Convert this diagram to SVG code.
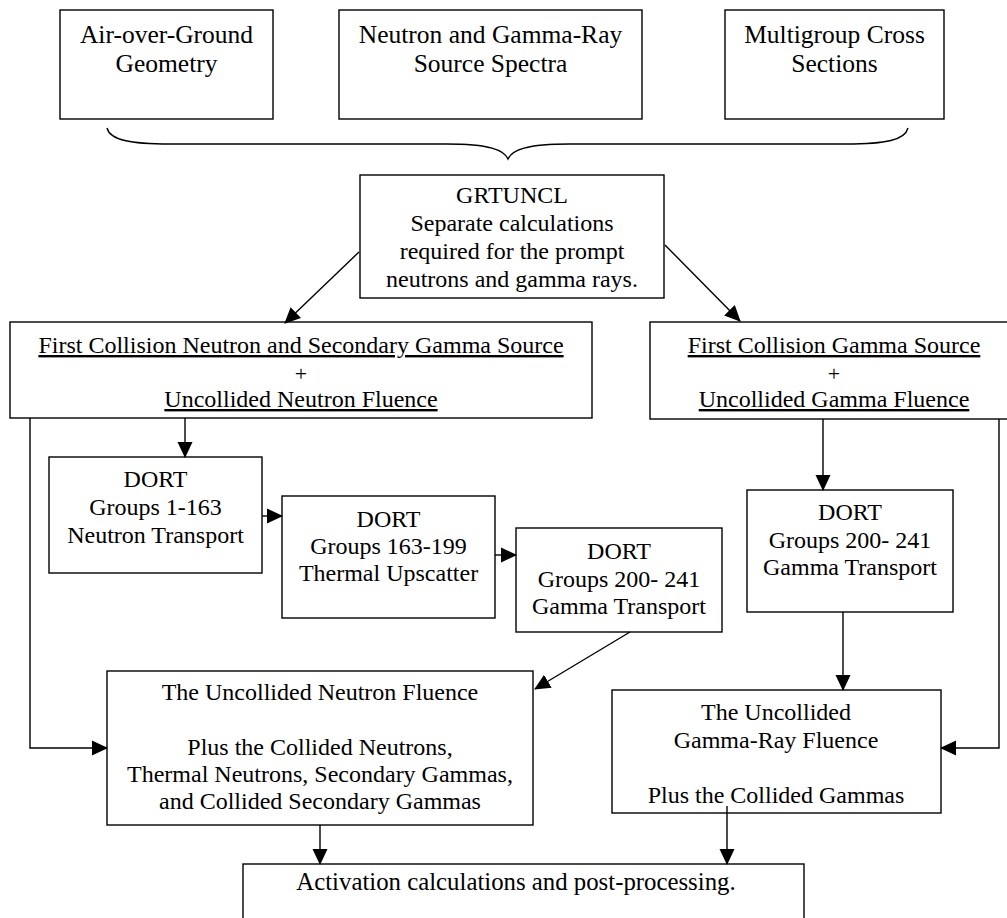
<svg xmlns="http://www.w3.org/2000/svg" width="1007" height="918" viewBox="0 0 1007 918">
<defs>
<style>
.box{fill:#fff;stroke:#000;stroke-width:1.4}
.t{font-family:"Liberation Serif","Times New Roman",serif;font-size:24px;fill:#000;text-anchor:middle}
.tt{font-size:25.5px}
.u{text-decoration:underline}
.plus{font-size:22px}
.big{font-size:24.8px}
.c{fill:none;stroke:#000;stroke-width:1.4}
</style>
<marker id="ah" markerUnits="userSpaceOnUse" markerWidth="16" markerHeight="16" viewBox="0 0 16 16" refX="15" refY="8" orient="auto">
<path d="M0,0.5 L16,8 L0,15.5 z" fill="#000"/>
</marker>
</defs>
<rect width="1007" height="918" fill="#fff"/>

<g id="n-geometry">
<rect class="box" x="60" y="10" width="213" height="109"/>
<text class="t tt" x="166.5" y="43">Air-over-Ground</text>
<text class="t tt" x="166.5" y="72">Geometry</text>
</g>
<g id="n-spectra">
<rect class="box" x="339" y="10" width="303" height="109"/>
<text class="t tt" x="490.5" y="43">Neutron and Gamma-Ray</text>
<text class="t tt" x="490.5" y="72">Source Spectra</text>
</g>
<g id="n-xsec">
<rect class="box" x="725" y="10" width="219" height="109"/>
<text class="t tt" x="834.5" y="43">Multigroup Cross</text>
<text class="t tt" x="834.5" y="72">Sections</text>
</g>

<g id="brace">
<path class="c" d="M107,128 C110,140 130,144 170,144 L446,144 C490,144 504,150 508,159 C512,150 526,144 570,144 L846,144 C886,144 905,140 908,128"/>
</g>

<g id="n-grtuncl">
<rect class="box" x="360" y="175" width="304" height="123"/>
<text class="t" x="512" y="203">GRTUNCL</text>
<text class="t" x="512" y="231">Separate calculations</text>
<text class="t" x="512" y="259">required for the prompt</text>
<text class="t" x="512" y="287">neutrons and gamma rays.</text>
</g>

<g id="n-fcn">
<rect class="box" x="10" y="322" width="582" height="96"/>
<text class="t u" x="301" y="353">First Collision Neutron and Secondary Gamma Source</text>
<text class="t plus" x="301" y="381">+</text>
<text class="t u" x="301" y="407">Uncollided Neutron Fluence</text>
</g>

<g id="n-fcg">
<rect class="box" x="650" y="322" width="370" height="97"/>
<text class="t u" x="834" y="353">First Collision Gamma Source</text>
<text class="t plus" x="834" y="381">+</text>
<text class="t u" x="834" y="407">Uncollided Gamma Fluence</text>
</g>

<g id="n-dort1">
<rect class="box" x="49" y="457" width="213" height="116"/>
<text class="t" x="155.5" y="487">DORT</text>
<text class="t" x="155.5" y="515">Groups 1-163</text>
<text class="t" x="155.5" y="543">Neutron Transport</text>
</g>

<g id="n-dort2">
<rect class="box" x="282" y="496" width="213" height="122"/>
<text class="t" x="388.5" y="527">DORT</text>
<text class="t" x="388.5" y="554">Groups 163-199</text>
<text class="t" x="388.5" y="581">Thermal Upscatter</text>
</g>

<g id="n-dort3">
<rect class="box" x="516" y="528" width="206" height="104"/>
<text class="t" x="619" y="559">DORT</text>
<text class="t" x="619" y="587">Groups 200- 241</text>
<text class="t" x="619" y="614">Gamma Transport</text>
</g>

<g id="n-dortg">
<rect class="box" x="747" y="490" width="206" height="122"/>
<text class="t" x="850" y="520">DORT</text>
<text class="t" x="850" y="548">Groups 200- 241</text>
<text class="t" x="850" y="575">Gamma Transport</text>
</g>

<g id="n-nfluence">
<rect class="box" x="107" y="671" width="426" height="154"/>
<text class="t" x="320" y="700">The Uncollided Neutron Fluence</text>
<text class="t" x="320" y="755">Plus the Collided Neutrons,</text>
<text class="t" x="320" y="782">Thermal Neutrons, Secondary Gammas,</text>
<text class="t" x="320" y="809">and Collided Secondary Gammas</text>
</g>

<g id="n-gfluence">
<rect class="box" x="612" y="690" width="329" height="123"/>
<text class="t" x="776" y="720">The Uncollided</text>
<text class="t" x="776" y="748">Gamma-Ray Fluence</text>
<text class="t" x="776" y="803">Plus the Collided Gammas</text>
</g>

<g id="n-activation">
<rect class="box" x="243" y="864" width="561" height="70"/>
<text class="t big" x="516" y="890">Activation calculations and post-processing.</text>
</g>

<g id="connectors">
<line class="c" x1="359" y1="252" x2="285" y2="323" marker-end="url(#ah)"/>
<line class="c" x1="665" y1="245" x2="740" y2="321" marker-end="url(#ah)"/>
<line class="c" x1="185" y1="418" x2="185" y2="457" marker-end="url(#ah)"/>
<line class="c" x1="262" y1="516" x2="282" y2="516" marker-end="url(#ah)"/>
<line class="c" x1="495" y1="555" x2="516" y2="555" marker-end="url(#ah)"/>
<line class="c" x1="823" y1="419" x2="823" y2="490" marker-end="url(#ah)"/>
<line class="c" x1="843" y1="612" x2="843" y2="690" marker-end="url(#ah)"/>
<line class="c" x1="630" y1="632" x2="535" y2="689" marker-end="url(#ah)"/>
<polyline class="c" points="30,418 30,748 107,748" marker-end="url(#ah)"/>
<polyline class="c" points="999,419 999,748 941,748" marker-end="url(#ah)"/>
<line class="c" x1="320" y1="825" x2="320" y2="864" marker-end="url(#ah)"/>
<line class="c" x1="727" y1="806" x2="727" y2="864" marker-end="url(#ah)"/>
</g>
</svg>
